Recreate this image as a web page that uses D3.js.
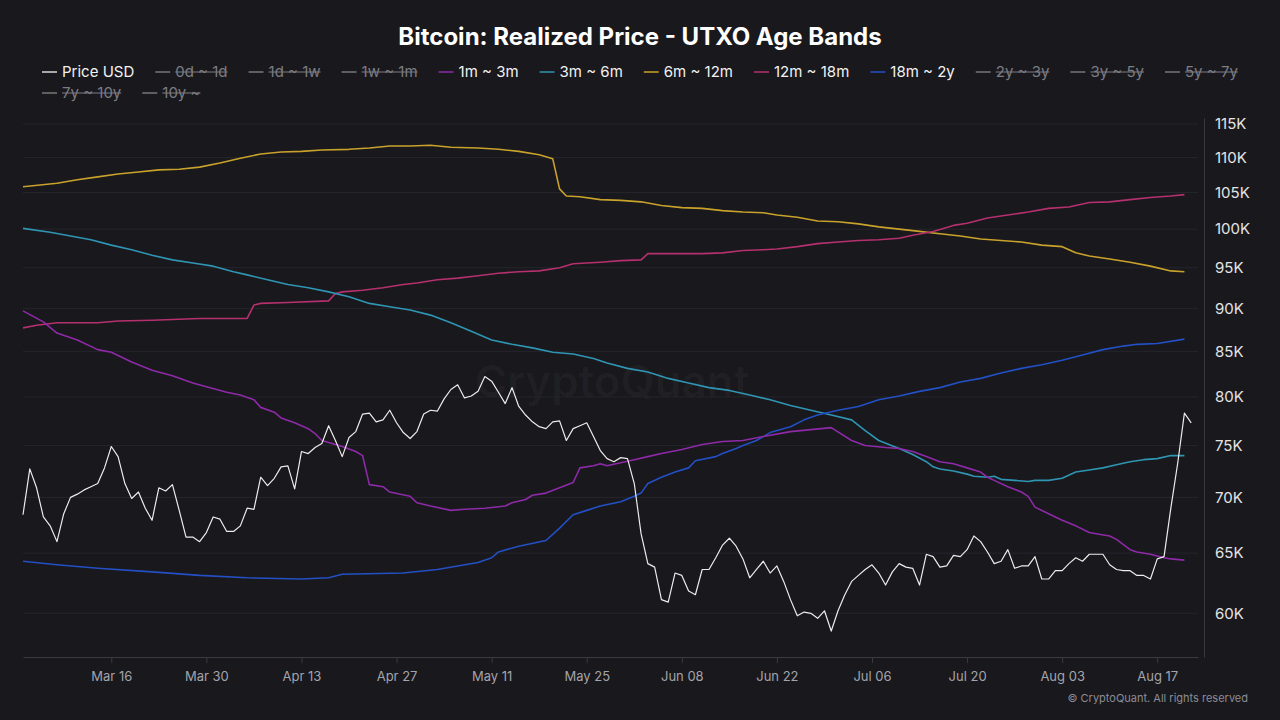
<!DOCTYPE html>
<html><head><meta charset="utf-8">
<script src="https://cdn.jsdelivr.net/npm/d3@7"></script>
<style>
body{margin:0;background:#18181d;}
svg{display:block;font-family:Inter,"Noto Sans",sans-serif;}
</style>
</head><body><svg id="c" width="1280" height="720"></svg>
<script>
const chartTitle = "Bitcoin: Realized Price - UTXO Age Bands";
const year = 2025;
const priceStart = "03-03";
// daily BTC price (USD), Mar 3 -> Aug 22
const priceUSD = [
68400,72700,70900,68200,67400,66000,68500,70000,70300,70700,71000,71300,72800,74900,73900,71300,69900,70500,69000,67900,
70900,70600,71200,68800,66400,66400,66000,66800,68200,68000,66900,66900,67400,69000,68900,71900,71100,71800,72900,73000,
70800,74400,74200,74800,75200,77000,75500,73900,75800,76400,78200,78300,77400,77600,78600,77300,76300,75700,76400,78200,
78600,78500,79800,80800,81300,79900,80100,80600,82200,81700,80500,79300,81000,79000,78100,77400,76900,76700,77400,77500,
75500,76700,77000,77300,75900,74500,73700,73400,73800,73700,71300,66700,64100,63800,61100,60900,63300,63100,61800,61500,
63600,63600,64600,65700,66300,65600,64500,62900,63600,64300,63300,63900,62600,61100,59800,60100,60000,59600,60200,58600,
60200,61500,62600,63100,63600,64000,63300,62300,63400,64100,63800,63700,62300,64900,64700,63800,63900,64800,64700,65300,
66500,66000,65100,64100,64300,65300,63700,63900,63900,64700,62800,62800,63500,63500,64100,64600,64300,64900,64900,64900,
64000,63600,63500,63500,63100,63100,62800,64500,64700,69000,73200,78300,77300
];
// realized price bands [MM-DD, USD]
const band1m3m = [["03-03",89700],["03-06",88400],["03-08",87100],["03-11",86300],["03-14",85200],["03-16",84900],["03-19",83800],["03-22",82900],["03-25",82300],["03-28",81500],["03-30",81100],["04-02",80500],["04-04",80200],["04-06",79700],["04-07",78900],["04-09",78400],["04-10",77800],["04-12",77300],["04-14",76700],["04-15",76200],["04-16",75500],["04-17",75300],["04-19",74900],["04-21",74400],["04-22",74000],["04-23",71200],["04-25",71000],["04-26",70500],["04-29",70100],["04-30",69500],["05-02",69200],["05-05",68800],["05-07",68900],["05-10",69000],["05-13",69200],["05-14",69500],["05-16",69800],["05-17",70200],["05-19",70400],["05-21",70900],["05-23",71400],["05-24",72800],["05-26",73000],["05-27",73200],["05-28",73000],["05-30",73300],["06-01",73600],["06-03",73900],["06-05",74200],["06-08",74600],["06-11",75100],["06-14",75400],["06-17",75500],["06-20",75900],["06-24",76400],["06-27",76600],["06-30",76800],["07-03",75500],["07-05",75000],["07-08",74800],["07-10",74700],["07-12",74400],["07-14",73900],["07-16",73400],["07-18",73200],["07-20",72800],["07-22",72400],["07-23",71900],["07-24",71600],["07-26",71000],["07-28",70500],["07-29",70100],["07-30",69100],["08-01",68500],["08-03",67900],["08-05",67400],["08-07",66800],["08-08",66700],["08-10",66500],["08-11",66200],["08-13",65300],["08-14",65100],["08-16",64900],["08-18",64600],["08-19",64500],["08-21",64400]];
const band3m6m = [["03-03",100100],["03-07",99600],["03-13",98600],["03-16",97900],["03-19",97300],["03-22",96600],["03-25",96000],["03-28",95600],["03-31",95200],["04-03",94500],["04-05",94100],["04-08",93500],["04-11",92900],["04-14",92500],["04-17",92000],["04-20",91400],["04-23",90600],["04-26",90200],["04-29",89800],["05-02",89200],["05-05",88300],["05-08",87300],["05-11",86300],["05-14",85800],["05-17",85400],["05-20",84900],["05-23",84700],["05-26",84200],["05-28",83700],["05-31",83100],["06-03",82700],["06-06",82000],["06-09",81500],["06-12",81000],["06-15",80700],["06-18",80200],["06-21",79700],["06-24",79100],["06-27",78600],["06-30",78100],["07-03",77600],["07-05",76500],["07-07",75500],["07-10",74700],["07-12",74100],["07-14",73400],["07-15",72900],["07-16",72700],["07-18",72500],["07-20",72200],["07-21",72000],["07-23",71900],["07-24",72000],["07-25",71700],["07-27",71600],["07-29",71500],["07-30",71600],["08-01",71600],["08-03",71800],["08-05",72400],["08-07",72600],["08-09",72800],["08-11",73100],["08-13",73400],["08-15",73600],["08-17",73700],["08-19",74000],["08-21",74000]];
const band6m12m = [["03-03",105800],["03-08",106300],["03-11",106800],["03-14",107200],["03-17",107600],["03-20",107900],["03-23",108200],["03-26",108300],["03-29",108600],["04-01",109200],["04-04",109900],["04-07",110500],["04-10",110800],["04-13",110900],["04-16",111100],["04-20",111200],["04-23",111400],["04-26",111700],["04-29",111700],["05-02",111800],["05-05",111500],["05-09",111400],["05-12",111200],["05-15",110900],["05-18",110400],["05-20",109800],["05-21",105500],["05-22",104500],["05-24",104400],["05-27",104000],["05-30",103900],["06-02",103700],["06-05",103200],["06-08",102900],["06-11",102800],["06-14",102500],["06-17",102300],["06-20",102200],["06-22",101900],["06-25",101600],["06-28",101100],["07-01",101000],["07-04",100700],["07-07",100300],["07-10",100000],["07-13",99700],["07-16",99400],["07-19",99100],["07-22",98700],["07-25",98500],["07-28",98300],["07-31",97900],["08-03",97700],["08-05",96900],["08-07",96500],["08-10",96100],["08-13",95700],["08-16",95200],["08-19",94600],["08-21",94500]];
const band12m18m = [["03-03",87700],["03-05",88000],["03-08",88300],["03-14",88300],["03-17",88500],["03-22",88600],["03-29",88800],["04-05",88800],["04-06",90400],["04-07",90600],["04-11",90700],["04-17",90900],["04-18",91800],["04-19",92000],["04-22",92200],["04-25",92500],["04-28",92900],["04-30",93100],["05-03",93500],["05-06",93700],["05-09",94000],["05-12",94300],["05-15",94500],["05-18",94600],["05-21",95000],["05-23",95500],["05-27",95700],["05-30",95900],["06-02",96000],["06-03",96800],["06-08",96800],["06-11",96800],["06-14",96900],["06-17",97200],["06-20",97300],["06-22",97400],["06-25",97700],["06-28",98100],["07-01",98300],["07-04",98500],["07-07",98600],["07-10",98800],["07-12",99200],["07-15",99700],["07-18",100500],["07-20",100800],["07-23",101500],["07-26",101900],["07-29",102300],["08-01",102800],["08-04",103000],["08-07",103600],["08-10",103700],["08-13",104000],["08-16",104300],["08-19",104500],["08-21",104700]];
const band18m2y = [["03-03",64300],["03-08",64000],["03-14",63700],["03-22",63400],["03-29",63100],["04-05",62900],["04-13",62800],["04-17",62900],["04-19",63200],["04-28",63300],["05-03",63600],["05-06",63900],["05-09",64200],["05-11",64600],["05-12",65100],["05-15",65600],["05-19",66100],["05-21",67200],["05-23",68400],["05-25",68800],["05-27",69200],["05-30",69600],["06-01",70100],["06-02",70400],["06-03",71300],["06-05",71900],["06-07",72400],["06-09",72800],["06-10",73500],["06-13",73900],["06-14",74200],["06-16",74700],["06-17",75000],["06-19",75500],["06-21",76300],["06-24",76900],["06-26",77600],["06-28",78100],["07-01",78600],["07-04",79000],["07-07",79700],["07-10",80100],["07-13",80600],["07-16",81000],["07-19",81600],["07-22",82000],["07-25",82600],["07-28",83100],["07-31",83500],["08-03",84000],["08-06",84600],["08-09",85200],["08-12",85600],["08-14",85800],["08-17",85900],["08-21",86400]];

const yTickValues = [60000,65000,70000,75000,80000,85000,90000,95000,100000,105000,110000,115000];
const xTickDates = ["03-16","03-30","04-13","04-27","05-11","05-25","06-08","06-22","07-06","07-20","08-03","08-17"];
const legendNames = ["Price USD","0d ~ 1d","1d ~ 1w","1w ~ 1m","1m ~ 3m","3m ~ 6m","6m ~ 12m","12m ~ 18m","18m ~ 2y","2y ~ 3y","3y ~ 5y","5y ~ 7y","7y ~ 10y","10y ~"];
const legendActive = [true,false,false,false,true,true,true,true,true,false,false,false,false,false];
const legendColors = ["#d9d9d9","#777","#777","#777","#8e2aa8","#2f95b3","#c9a22b","#b5306e","#2350c4","#777","#777","#777","#777","#777"];

const parse = s => d3.timeParse("%Y-%m-%d")(year + "-" + s);
const svg = d3.select("#c");
svg.append("rect").attr("width",1280).attr("height",720).attr("fill","#18181d");

const x = d3.scaleTime().domain([parse("03-03"), parse("08-23")]).range([23, 1198]);
const y = d3.scaleLog().domain([56613, 115930]).range([657, 118]);

// watermark
svg.append("text").attr("x",612).attr("y",397).attr("text-anchor","middle")
  .attr("font-size",44).attr("font-weight",600).attr("fill","#ffffff").attr("fill-opacity",0.035)
  .text("CryptoQuant");

// grid
svg.append("g").selectAll("line").data(yTickValues).join("line")
  .attr("x1",23).attr("x2",1198).attr("y1",d=>y(d)).attr("y2",d=>y(d))
  .attr("stroke","#25252c").attr("stroke-width",1);

// axes
const yAxis = svg.append("g").attr("transform","translate(1204,0)")
  .call(d3.axisRight(y).tickValues(yTickValues).tickSize(0).tickPadding(11).tickFormat(d=>d3.format("d")(d/1000)+"K"));
yAxis.select(".domain").attr("stroke","#3a3a42");
yAxis.selectAll("text").attr("fill","#e4e4e4").attr("font-size",15).attr("font-family","Inter,'Noto Sans',sans-serif");

const xAxis = svg.append("g").attr("transform","translate(0,657)")
  .call(d3.axisBottom(x).tickValues(xTickDates.map(parse)).tickSize(6).tickSizeOuter(0).tickPadding(9).tickFormat(d3.timeFormat("%b %d")));
xAxis.select(".domain").attr("stroke","#3a3a42");
xAxis.selectAll(".tick line").attr("stroke","#3a3a42");
xAxis.selectAll("text").attr("fill","#a4a4ac").attr("font-size",13).attr("font-family","Inter,'Noto Sans',sans-serif");

// lines
const line = d3.line().x(d=>x(d[0])).y(d=>y(d[1]));
const bands = [
  [band6m12m,"#c9a22b"],[band12m18m,"#b5306e"],[band3m6m,"#2f95b3"],[band18m2y,"#2350c4"],[band1m3m,"#8e2aa8"]
];
bands.forEach(([data,color])=>{
  svg.append("path").datum(data.map(d=>[parse(d[0]),d[1]]))
    .attr("d",line).attr("fill","none").attr("stroke",color).attr("stroke-width",1.6).attr("stroke-linejoin","round");
});
const p0 = parse(priceStart);
const priceData = priceUSD.map((v,i)=>[d3.timeDay.offset(p0,i),v]);
svg.append("path").datum(priceData).attr("d",line).attr("fill","none")
  .attr("stroke","#ececec").attr("stroke-width",1.2).attr("stroke-linejoin","round");

// title
svg.append("text").attr("x",640).attr("y",45).attr("text-anchor","middle")
  .attr("font-size",24).attr("font-weight",700).attr("fill","#ffffff").text(chartTitle);

// legend
const lg = svg.append("g").attr("font-size",15);
let lx = 42, ly = 77;
legendNames.forEach((name,i)=>{
  const on = legendActive[i];
  const t = lg.append("text").attr("x",lx+20).attr("y",ly).attr("fill",on?"#f2f2f2":"#7d7d84").text(name);
  const w = t.node().getComputedTextLength();
  if (lx + 20 + w > 1250) { lx = 42; ly += 21; t.attr("x",lx+20).attr("y",ly); }
  lg.append("line").attr("x1",lx).attr("x2",lx+15).attr("y1",ly-5).attr("y2",ly-5)
    .attr("stroke",legendColors[i]).attr("stroke-width",1.5);
  if(!on){
    lg.append("line").attr("x1",lx+20).attr("x2",lx+20+w).attr("y1",ly-5).attr("y2",ly-5)
      .attr("stroke","#7d7d84").attr("stroke-width",1.2);
  }
  lx = lx + 20 + w + 21;
});

// footer
svg.append("text").attr("x",1248).attr("y",702).attr("text-anchor","end")
  .attr("font-size",11).attr("fill","#8c8c94").text("© CryptoQuant. All rights reserved");
</script>
</body></html>
